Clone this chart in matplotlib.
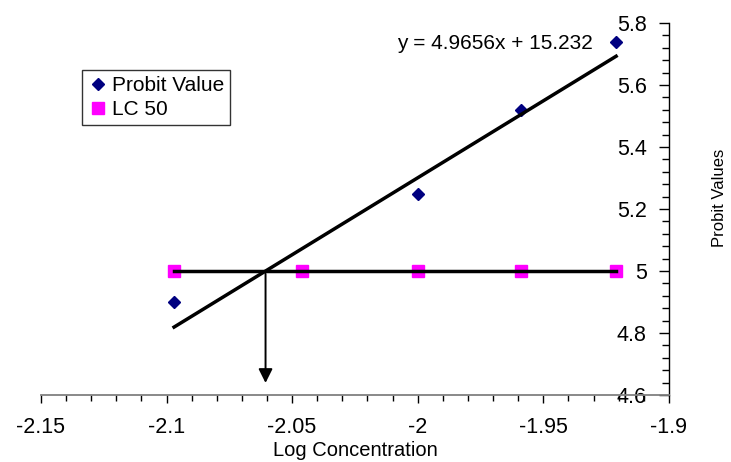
import numpy as np
import matplotlib
matplotlib.use('Agg')
import matplotlib.pyplot as plt
from matplotlib.ticker import MultipleLocator

plt.rcParams['font.family'] = ['Liberation Sans', 'DejaVu Sans']

# data
log_conc = [-2.097, -2.0, -1.959, -1.921]
probit = [4.90, 5.25, 5.52, 5.74]
lc50_x = [-2.097, -2.046, -2.0, -1.959, -1.921]
lc50_y = [5, 5, 5, 5, 5]
slope = 4.9656
intercept = 15.232

fig = plt.figure(figsize=(7.31, 4.62), dpi=100)
ax = fig.add_axes([0.056, 0.145, 0.859, 0.805])

ax.plot(log_conc, probit, linestyle='none', marker='D', color='#000080',
        markersize=6.5, label='Probit Value', zorder=3)
ax.plot(lc50_x, lc50_y, linestyle='none', marker='s', color='#ff00ff',
        markersize=8.5, label='LC 50', zorder=3)

# trendlines
xt = np.array([min(log_conc), max(log_conc)])
ax.plot(xt, slope * xt + intercept, color='black', lw=2.5, zorder=4)
ax.plot([min(lc50_x), max(lc50_x)], [5, 5], color='black', lw=2.5, zorder=4)

# LC50 arrow
x0 = (5 - intercept) / slope
ax.annotate('', xy=(x0, 4.63), xytext=(x0, 5.0),
            arrowprops=dict(arrowstyle='-|>', color='black', lw=1.4,
                            mutation_scale=21), zorder=5)

ax.text(0.879, 0.944, 'y = 4.9656x + 15.232', transform=ax.transAxes,
        ha='right', va='center', fontsize=15)

ax.set_xlim(-2.15, -1.9)
ax.set_ylim(4.6, 5.8)
ax.xaxis.set_minor_locator(MultipleLocator(0.01))
ax.yaxis.set_minor_locator(MultipleLocator(0.04))
ax.set_xticks([-2.15, -2.1, -2.05, -2.0, -1.95, -1.9])
ax.set_xticklabels(['-2.15', '-2.1', '-2.05', '-2', '-1.95', '-1.9'])
ax.set_yticks([4.6, 4.8, 5.0, 5.2, 5.4, 5.6, 5.8])
ax.set_yticklabels(['4.6', '4.8', '5', '5.2', '5.4', '5.6', '5.8'])

ax.spines['top'].set_visible(False)
ax.spines['right'].set_visible(False)
ax.spines['left'].set_position(('data', -1.9))
ax.spines['bottom'].set_color('#808080')
ax.spines['bottom'].set_linewidth(1.3)
ax.spines['left'].set_linewidth(1.0)

ax.tick_params(axis='x', which='major', length=6, width=1, pad=10,
               labelsize=15.5, color='black')
ax.tick_params(axis='x', which='minor', length=4, width=1, color='black')
ax.tick_params(axis='y', which='major', length=7, width=1, pad=9,
               labelsize=15.5)
ax.tick_params(axis='y', which='minor', length=5, width=1)

ax.set_xlabel('Log Concentration', fontsize=14.5, labelpad=2)
ax.set_ylabel('Probit Values', fontsize=12)
ax.yaxis.set_label_coords(1.092, 0.53)

legend = ax.legend(loc='upper left', bbox_to_anchor=(0.065, 0.875),
                   fontsize=15, frameon=True, fancybox=False,
                   handletextpad=0.15, handlelength=1.0, borderpad=0.3,
                   labelspacing=0.25, borderaxespad=0)
frame = legend.get_frame()
frame.set_edgecolor('black')
frame.set_linewidth(1.0)

fig.savefig('out.png', dpi=100)
